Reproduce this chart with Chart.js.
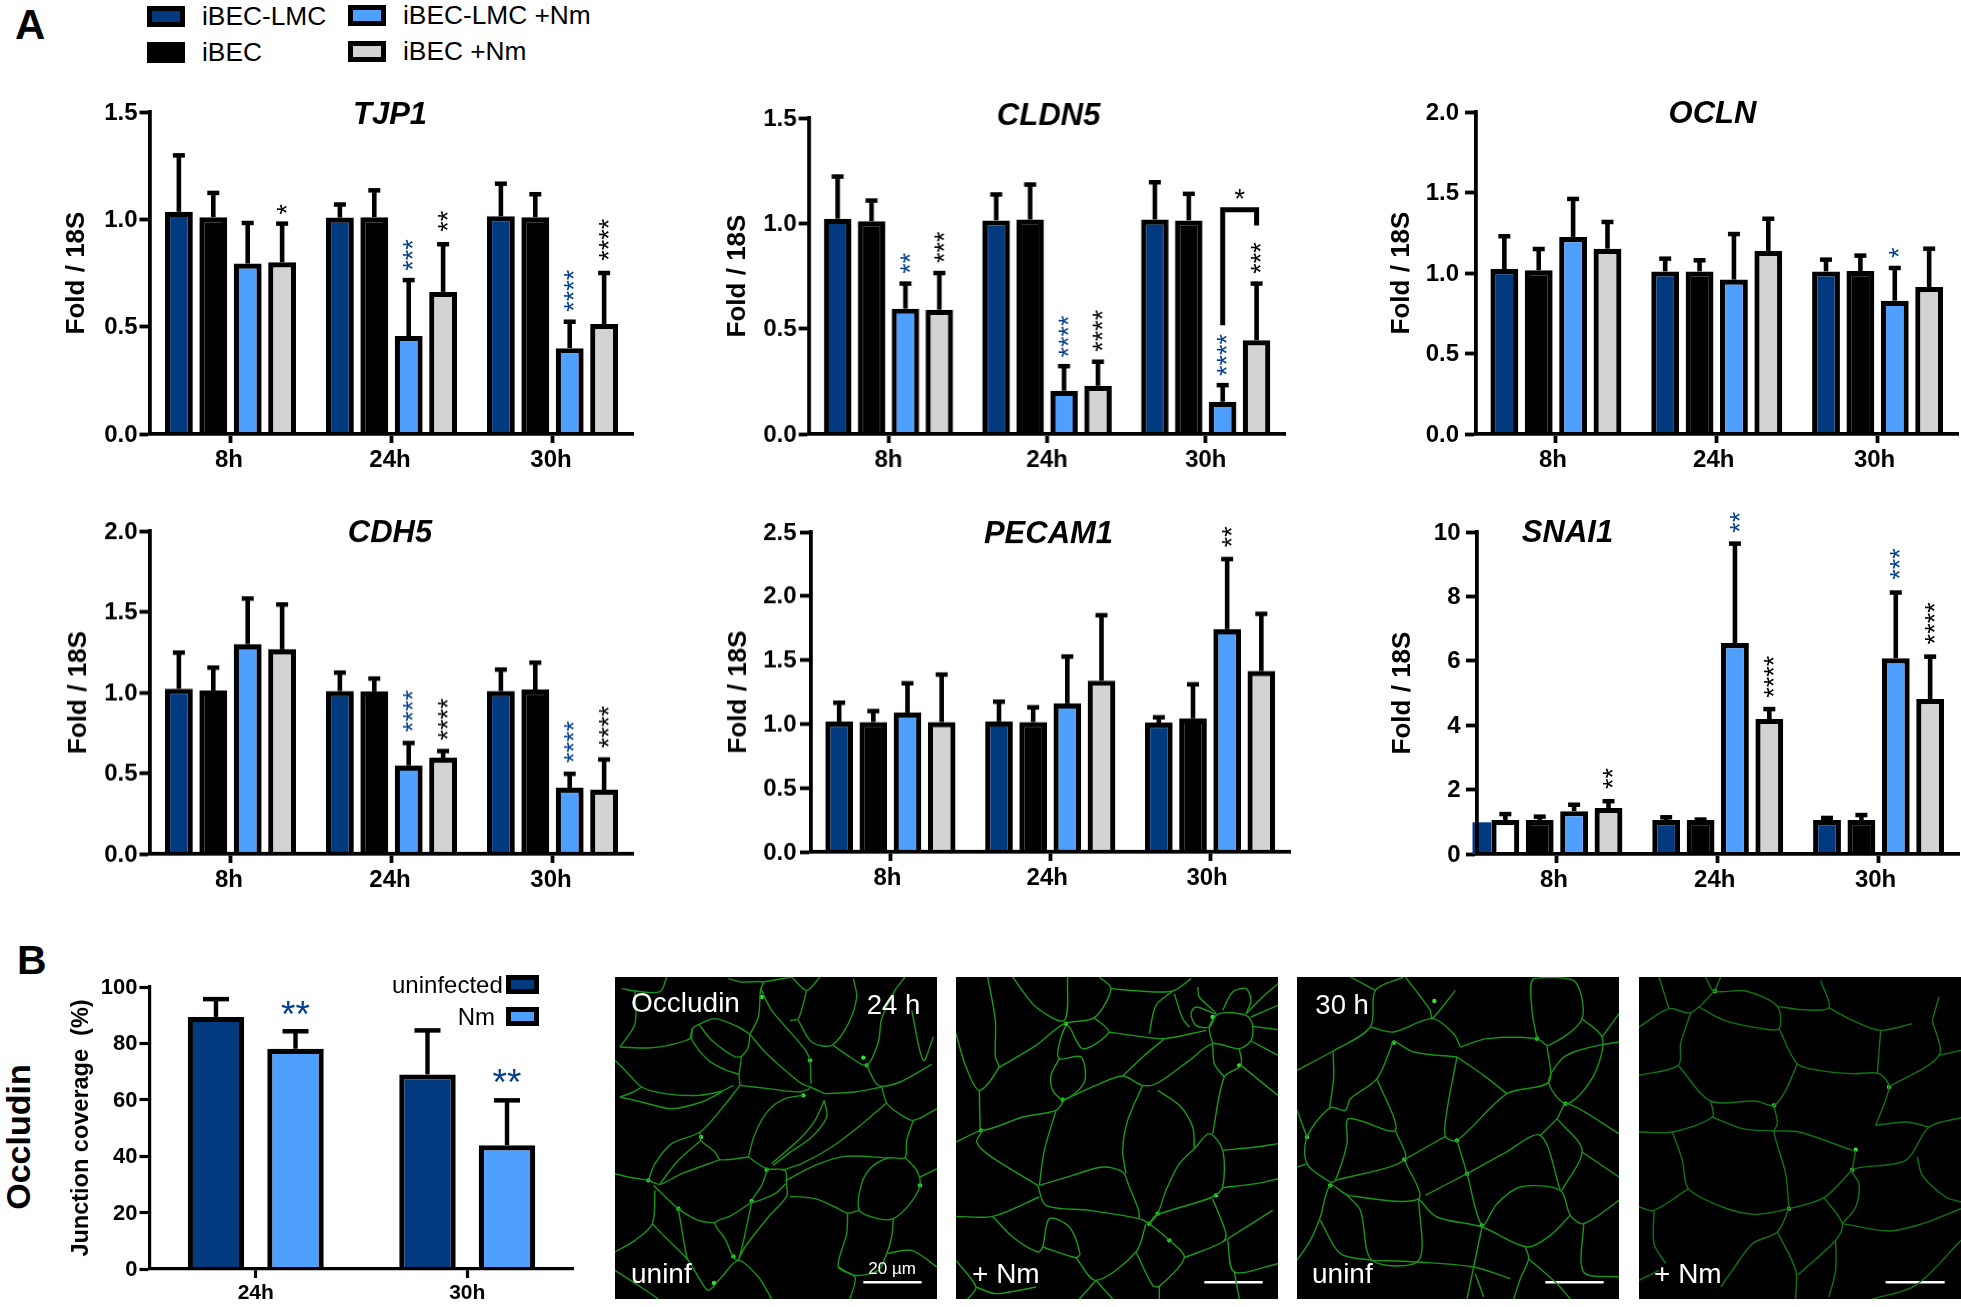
<!DOCTYPE html>
<html>
<head>
<meta charset="utf-8">
<title>Occludin and junction genes</title>
<script src="https://cdn.jsdelivr.net/npm/chart.js@4/dist/chart.umd.min.js"></script>
<style>
    html, body { margin: 0; padding: 0; background: #fff; }
    body { position: relative; width: 1961px; height: 1307px; overflow: hidden; font-family: "Liberation Sans", Arial, sans-serif; }
    canvas { position: absolute; }
    .txt { position: absolute; line-height: 1; white-space: pre; color: #000; }
    .swatch { position: absolute; box-sizing: border-box; border: 5px solid #000; }
</style>
</head>
<body>
<script>
const timeLabels = ["8h", "24h", "30h"];
const seriesNames = ["iBEC-LMC", "iBEC", "iBEC-LMC +Nm", "iBEC +Nm"];

// means and upper error ends, one row per series, one value per time point
const tjp1Means = [[1.035, 1.008, 1.014], [1.01, 1.01, 1.01], [0.794, 0.456, 0.40], [0.80, 0.662, 0.512]];
const tjp1Errs = [[1.298, 1.069, 1.166], [1.123, 1.135, 1.117], [0.983, 0.717, 0.523], [0.98, 0.884, 0.75]];
const tjp1Ticks = [0, 0.5, 1, 1.5];
const tjp1Stars = [[0, 3, "*", 1.022], [1, 2, "***", 0.76], [1, 3, "**", 0.942], [2, 2, "****", 0.569], [2, 3, "****", 0.807]];

const cldn5Means = [[1.022, 1.014, 1.018], [1.01, 1.018, 1.014], [0.595, 0.205, 0.153], [0.59, 0.229, 0.445]];
const cldn5Errs = [[1.222, 1.137, 1.195], [1.108, 1.184, 1.14], [0.714, 0.322, 0.232], [0.764, 0.343, 0.714]];
const cldn5Ticks = [0, 0.5, 1, 1.5];
const cldn5Stars = [[0, 2, "**", 0.761], [0, 3, "***", 0.812], [1, 2, "****", 0.363], [1, 3, "****", 0.39], [2, 2, "****", 0.275], [2, 3, "***", 0.761]];
const cldn5Bracket = { group: 2, from: 2, to: 3, top: 1.064, leftEnd: 0.516, rightEnd: 0.99, star: "*", starAt: 1.137 };

const oclnMeans = [[1.025, 1.01, 1.01], [1.017, 1.01, 1.012], [1.224, 0.959, 0.828], [1.151, 1.137, 0.913]];
const oclnErrs = [[1.228, 1.089, 1.083], [1.149, 1.079, 1.108], [1.46, 1.242, 1.031], [1.317, 1.337, 1.151]];
const oclnTicks = [0, 0.5, 1, 1.5, 2];
const oclnStars = [[2, 2, "*", 1.093]];

const cdh5Means = [[1.024, 1.009, 1.009], [1.013, 1.007, 1.018], [1.30, 0.548, 0.41], [1.268, 0.596, 0.397]];
const cdh5Errs = [[1.247, 1.123, 1.142], [1.154, 1.086, 1.185], [1.582, 0.687, 0.496], [1.545, 0.637, 0.585]];
const cdh5Ticks = [0, 0.5, 1, 1.5, 2];
const cdh5Stars = [[1, 2, "****", 0.755], [1, 3, "****", 0.703], [2, 2, "****", 0.563], [2, 3, "****", 0.656]];

const pecam1Means = [[1.018, 1.02, 1.01], [1.015, 1.015, 1.044], [1.09, 1.161, 1.741], [1.015, 1.339, 1.414]];
const pecam1Errs = [[1.166, 1.174, 1.052], [1.101, 1.13, 1.31], [1.318, 1.527, 2.289], [1.386, 1.85, 1.861]];
const pecam1Ticks = [0, 0.5, 1, 1.5, 2, 2.5];
const pecam1Stars = [[2, 2, "**", 2.38]];

const snai1Means = [[1.057, 1.057, 1.057], [1.057, 1.057, 1.057], [1.33, 6.55, 6.08], [1.43, 4.19, 4.81]];
const snai1Errs = [[1.24, 1.14, 1.12], [1.16, 1.07, 1.21], [1.53, 9.64, 8.12], [1.64, 4.5, 6.13]];
const snai1Ticks = [0, 2, 4, 6, 8, 10];
const snai1Stars = [[0, 3, "**", 2.02], [1, 2, "**", 9.98], [1, 3, "****", 4.85], [2, 2, "***", 8.52], [2, 3, "****", 6.51]];
const snai1Patch = 0.984;

const coverageLabels = ["24h", "30h"];
const coverageNames = ["uninfected", "Nm"];
const coverageMeans = [[89.4, 69], [78.1, 43.9]];
const coverageErrs = [[95.7, 84.6], [84.3, 59.8]];
const coverageTicks = [0, 20, 40, 60, 80, 100];
const coverageStars = [[0, 1, "**", 92.3], [1, 1, "**", 68.1]];

// junction traces (panel units, 0 to 966)
const panelSpan = 966;
const panel1Lines = [
    [[20,35],[60,42],[135,44],[155,0]], [[60,42],[60,140],[15,210]],
    [[15,210],[100,213],[160,205],[228,183],[232,155],[252,142],[300,125],[370,150],[405,172]],
    [[232,155],[228,183],[280,250],[330,278],[372,292]],
    [[252,142],[290,190],[360,240],[378,240],[372,292],[375,325]],
    [[405,172],[398,215],[378,240]], [[405,172],[430,120],[437,35],[445,15],[380,15],[340,5]],
    [[405,172],[450,225],[510,280],[560,320],[585,330],[630,350]],
    [[437,35],[470,100],[530,170],[575,225],[585,255],[588,320]],
    [[445,15],[530,0]], [[530,0],[575,40],[615,0]],
    [[575,40],[550,125],[525,130]], [[550,130],[590,195],[650,205],[700,140],[725,60],[715,5]],
    [[655,205],[705,240],[755,265],[790,195],[800,125],[840,40],[870,0]],
    [[890,100],[925,250],[955,180]], [[755,265],[790,325],[855,315],[950,262]],
    [[630,350],[720,345],[800,330]],
    [[0,250],[40,290],[80,330],[150,350],[250,355],[320,342],[355,325]],
    [[15,360],[55,345],[80,330]], [[15,360],[80,375],[170,395],[260,375],[320,345]],
    [[375,325],[460,335],[555,345],[585,335]],
    [[375,325],[320,395],[255,465],[170,500],[120,560],[100,610]],
    [[255,465],[258,490],[300,525],[315,548],[400,540]],
    [[400,540],[420,470],[460,400],[510,365],[565,355]],
    [[628,370],[600,430],[560,480],[510,525],[470,560]],
    [[628,370],[635,420],[590,480],[520,530],[475,565]],
    [[400,540],[455,575],[510,580],[515,625]],
    [[258,490],[190,550],[135,620]], [[100,610],[135,622],[200,590],[315,548]],
    [[815,378],[730,450],[650,510],[560,560],[500,580]],
    [[800,330],[815,378],[845,405],[895,430],[966,395]],
    [[895,430],[875,490],[870,542],[820,543],[770,570],[740,620],[733,700],[790,725],[835,725],[885,680],[915,625],[905,580],[870,542]],
    [[820,543],[690,538],[600,565],[510,612]], [[915,600],[966,575]],
    [[525,658],[600,665],[660,690],[698,708],[733,700]],
    [[698,708],[695,770],[670,870],[720,900],[705,966]],
    [[515,625],[515,658],[460,720],[390,810],[370,850]],
    [[458,575],[440,625],[410,675],[480,650],[512,620]],
    [[410,675],[350,715],[300,738],[330,785],[355,840],[370,850],[405,700],[410,675]],
    [[100,610],[40,600],[0,590]], [[115,625],[190,695],[250,730],[300,738]],
    [[120,640],[112,740],[60,790],[0,825]],
    [[112,740],[150,780],[220,850],[250,900],[280,940],[320,900],[370,850],[430,900],[470,966]],
    [[190,695],[215,840],[220,850]], [[0,880],[100,945],[130,966]],
    [[835,725],[830,780],[815,830],[790,880],[720,895],[670,870]], [[815,830],[890,820],[966,870]]
];
const panel1Spots = [[455,578],[355,838],[297,918],[100,610],[190,695],[915,625],[565,355],[410,672],[755,265],[745,242],[258,480],[440,60],[585,250]];

const panel2Lines = [
    [[95,0],[118,130],[118,240],[128,272],[70,340],[30,270],[0,170]],
    [[170,0],[240,90],[325,130],[335,0]],
    [[128,272],[240,205],[325,140],[415,122],[465,35],[430,0]],
    [[465,35],[550,42],[650,42],[705,5]],
    [[415,122],[458,165],[380,215],[335,145],[310,200],[310,245],[375,240],[385,315],[325,368],[290,340],[285,295],[310,245]],
    [[458,165],[530,175],[625,185],[750,160]], [[650,42],[600,85],[580,170]], [[655,50],[680,125],[700,150]],
    [[325,368],[420,325],[500,297],[560,325],[605,318],[700,250],[770,200],[850,215],[885,190],[890,145],[870,115],[790,110],[760,150],[770,200]],
    [[500,297],[560,240],[625,185]], [[70,340],[72,420],[78,460],[200,420],[300,400],[325,368]],
    [[0,495],[78,460],[62,495],[100,535],[245,625]], [[300,400],[265,520],[250,625]],
    [[560,325],[515,430],[500,520],[510,590]], [[605,340],[670,385],[710,450],[715,515]],
    [[715,515],[760,470],[800,520],[800,630],[770,660],[600,715],[580,740]],
    [[770,470],[805,300],[855,265],[850,215]], [[770,200],[775,260],[805,300]],
    [[855,265],[910,310],[966,355]], [[800,520],[900,510],[966,500]], [[800,632],[900,620],[966,605]],
    [[715,515],[670,560],[630,640],[605,710],[580,740]],
    [[250,625],[350,595],[440,570],[500,585],[520,630],[548,700],[550,725]],
    [[245,625],[270,685],[400,700],[550,725],[580,740]], [[0,718],[110,718],[250,660]],
    [[110,718],[170,780],[245,825],[260,810],[280,725],[340,750],[372,830],[360,842],[260,810]],
    [[360,842],[420,910],[540,825],[570,740]],
    [[540,825],[590,925],[610,928],[685,842],[640,790],[580,740]],
    [[685,842],[800,795],[810,770],[770,665]], [[800,795],[950,700]],
    [[815,790],[835,885],[966,860]], [[835,885],[850,966]],
    [[420,910],[370,966]], [[420,910],[470,966]], [[610,928],[610,966]],
    [[0,850],[60,930],[35,966]], [[60,930],[120,950],[240,930]],
    [[725,30],[730,60],[780,110],[720,90],[705,110],[720,145],[760,150],[778,115]],
    [[800,100],[830,45],[870,35],[885,70],[870,110]],
    [[885,120],[966,85]], [[890,148],[966,158]], [[885,192],[966,235]], [[870,110],[920,60],[966,20]]
];
const panel2Spots = [[75,460],[605,710],[580,740],[640,790],[780,655],[330,140],[320,368],[850,265],[770,120]];

const panel3Lines = [
    [[0,280],[108,222],[220,150],[235,40],[320,0]], [[160,0],[235,40]],
    [[325,0],[400,100],[405,125],[475,40]], [[220,150],[290,165],[405,125],[470,170],[490,210]],
    [[290,190],[240,305],[160,365],[145,400],[100,392],[30,480],[30,560],[100,615],[115,610],[150,500],[155,425],[295,460],[240,305]],
    [[290,190],[350,225],[480,240]], [[108,222],[110,300],[98,392]],
    [[490,210],[570,185],[720,185],[755,205],[855,125],[830,10],[710,5],[705,100],[720,185]],
    [[480,240],[450,400],[445,478],[480,490],[630,350],[755,315],[750,205]],
    [[480,240],[560,295],[630,350]],
    [[855,125],[915,180],[905,260],[860,340],[805,380],[755,315],[790,250],[830,225],[905,205],[966,195]],
    [[915,180],[966,110]], [[295,460],[322,548],[115,610]], [[322,548],[445,478]],
    [[322,548],[365,665],[155,655],[100,625],[70,720],[40,790],[0,850]],
    [[480,490],[510,590],[555,745],[600,680],[670,630],[790,640],[820,715],[860,740],[966,670]],
    [[510,590],[385,655]], [[510,590],[620,530],[730,475],[790,640]],
    [[730,475],[780,425],[810,380],[966,470]], [[780,425],[855,520],[795,640]], [[855,525],[966,600]],
    [[820,715],[760,775],[690,810],[555,750],[420,720],[365,665]],
    [[365,665],[365,850],[225,850],[190,700],[150,655]], [[70,730],[130,830],[225,850]],
    [[225,850],[360,855],[530,870],[640,905]], [[555,750],[530,870],[510,966]],
    [[685,810],[695,845],[670,905],[650,966]], [[695,845],[780,920],[820,966]],
    [[860,740],[860,885],[966,900]], [[535,890],[560,960]], [[0,400],[30,480]], [[0,570],[30,560]]
];
const panel3Spots = [[322,548],[480,490],[510,590],[555,745],[805,380],[100,625],[412,72],[290,197],[30,480],[720,185]];

const panel4Lines = [
    [[0,150],[90,95],[155,107],[225,42],[245,0]], [[60,0],[90,95]],
    [[200,0],[225,42],[320,42],[415,88],[420,155],[370,155],[255,130],[180,90]],
    [[415,88],[490,98],[570,92],[545,10]], [[570,92],[640,130],[725,160],[820,140]],
    [[155,107],[125,200],[118,265],[0,295]],
    [[420,155],[475,260],[540,280],[640,290],[720,290],[750,330],[710,445]],
    [[725,160],[715,290]], [[880,130],[900,235],[750,330]], [[900,235],[966,220]], [[900,60],[880,130]],
    [[475,260],[440,340],[405,385],[350,372],[215,372],[120,268]],
    [[215,372],[220,420],[100,465],[0,465]],
    [[220,420],[310,455],[405,462],[480,465],[640,520]],
    [[405,385],[415,440],[405,465],[440,590],[450,695]],
    [[100,465],[130,550],[148,635],[250,690],[350,712],[450,695],[555,662],[640,578]],
    [[148,635],[45,700],[0,690]], [[45,700],[45,800],[80,860]],
    [[450,695],[415,765],[340,800],[280,880],[245,930]], [[415,765],[470,880],[470,966]],
    [[555,662],[610,740],[590,790],[475,895]], [[590,790],[590,880],[570,960]],
    [[610,740],[650,690],[660,620],[640,578],[800,550],[870,450],[966,422]],
    [[870,450],[800,435],[710,445]], [[640,578],[650,520]],
    [[610,740],[750,762],[850,740],[966,695]], [[835,540],[850,595],[920,660],[966,675]],
    [[966,790],[830,925],[700,966]], [[0,910],[60,880]]
];
const panel4Spots = [[450,695],[640,578],[650,518],[228,42],[405,385],[750,330]];

const darkBlue = "#023a7f";
const lightBlue = "#4f9fff";
const lightGray = "#d3d3d3";
const starBlue = "#05408c";
const seriesColors = [darkBlue, "#000000", lightBlue, lightGray];
const fontName = '"Liberation Sans", Arial, sans-serif';

Chart.defaults.font.family = fontName;
Chart.defaults.color = "#000";
Chart.defaults.animation = false;

function addText(text, left, top, size, bold) {
    const el = document.createElement("div");
    el.className = "txt";
    el.textContent = text;
    el.style.left = left + "px";
    el.style.top = top + "px";
    el.style.fontSize = size + "px";
    if (bold) el.style.fontWeight = "bold";
    document.body.appendChild(el);
    return el;
}

function addSwatch(left, top, w, h, color) {
    const el = document.createElement("div");
    el.className = "swatch";
    el.style.cssText = `left:${left}px;top:${top}px;width:${w}px;height:${h}px;background:${color}`;
    document.body.appendChild(el);
}

function addCanvas(left, top, w, h) {
    const c = document.createElement("canvas");
    c.width = w;
    c.height = h;
    c.style.left = left + "px";
    c.style.top = top + "px";
    c.style.width = w + "px";
    c.style.height = h + "px";
    document.body.appendChild(c);
    return c;
}

// error bars, stars, gene name and the other bits Chart.js has no element for
const marksPlugin = {
    id: "marks",
    afterDatasetsDraw(chart, args, opts) {
        const ctx = chart.ctx;
        const y = chart.scales.y;
        ctx.save();

        if (opts.patch !== undefined) {
            const b = chart.getDatasetMeta(0).data[0];
            ctx.fillStyle = darkBlue;
            const left = chart.chartArea.left - 4;
            ctx.fillRect(left, y.getPixelForValue(opts.patch), b.x - b.width / 2 - left, y.getPixelForValue(0) - y.getPixelForValue(opts.patch));
        }

        ctx.strokeStyle = "#000";
        opts.errs.forEach((row, i) => {
            const bars = chart.getDatasetMeta(i).data;
            row.forEach((v, j) => {
                const top = y.getPixelForValue(v);
                ctx.lineWidth = opts.stemW;
                ctx.beginPath();
                ctx.moveTo(bars[j].x, bars[j].y);
                ctx.lineTo(bars[j].x, top);
                ctx.stroke();
                ctx.lineWidth = 4.5;
                ctx.beginPath();
                ctx.moveTo(bars[j].x - opts.capW / 2, top);
                ctx.lineTo(bars[j].x + opts.capW / 2, top);
                ctx.stroke();
            });
        });

        opts.stars.forEach(([group, series, text, at]) => {
            const x = chart.getDatasetMeta(series).data[group].x;
            ctx.fillStyle = series === opts.blueSeries ? starBlue : "#000";
            ctx.font = `${opts.starSize}px ${fontName}`;
            if (opts.flatStars) {
                ctx.textAlign = "center";
                ctx.textBaseline = "alphabetic";
                ctx.fillText(text, x, y.getPixelForValue(at) + opts.starSize * 0.5);
            } else {
                ctx.save();
                ctx.translate(x, y.getPixelForValue(at));
                ctx.rotate(-Math.PI / 2);
                ctx.textAlign = "left";
                ctx.textBaseline = "middle";
                ctx.fillText(text, 0, opts.starSize * 0.23);
                ctx.restore();
            }
        });

        if (opts.bracket) {
            const k = opts.bracket;
            const x1 = chart.getDatasetMeta(k.from).data[k.group].x;
            const x2 = chart.getDatasetMeta(k.to).data[k.group].x;
            ctx.lineWidth = 5;
            ctx.lineJoin = "miter";
            ctx.beginPath();
            ctx.moveTo(x1, y.getPixelForValue(k.leftEnd));
            ctx.lineTo(x1, y.getPixelForValue(k.top));
            ctx.lineTo(x2, y.getPixelForValue(k.top));
            ctx.lineTo(x2, y.getPixelForValue(k.rightEnd));
            ctx.stroke();
            ctx.fillStyle = "#000";
            ctx.textAlign = "center";
            ctx.textBaseline = "alphabetic";
            ctx.fillText(k.star, (x1 + x2) / 2, y.getPixelForValue(k.starAt) + opts.starSize * 0.5);
        }

        if (opts.title) {
            ctx.fillStyle = "#000";
            ctx.font = `italic bold 31px ${fontName}`;
            ctx.textAlign = "center";
            ctx.textBaseline = "middle";
            ctx.fillText(opts.title, chart.chartArea.left + opts.titleX, chart.chartArea.top + opts.titleY);
        }
        ctx.restore();
    }
};

function barChart(cfg) {
    const topPad = 24, rightPad = 3, bottom = 52;
    const plotH = cfg.baseY - cfg.topY;
    const c = addCanvas(cfg.axisX - cfg.gutter, cfg.topY - topPad, cfg.gutter + cfg.plotW + rightPad, topPad + plotH + bottom);
    const ticks = cfg.ticks;
    new Chart(c, {
        type: "bar",
        data: {
            labels: cfg.labels,
            datasets: cfg.means.map((row, i) => ({
                label: cfg.names[i],
                data: row,
                backgroundColor: cfg.fills ? cfg.fills[i] : seriesColors[i],
                borderColor: "#000",
                borderWidth: cfg.barBorder,
                categoryPercentage: cfg.catPct,
                barPercentage: cfg.barPct
            }))
        },
        options: {
            responsive: false,
            layout: { padding: { top: topPad, right: rightPad, left: 0, bottom: 0 } },
            plugins: {
                legend: { display: false },
                tooltip: { enabled: false },
                marks: {
                    errs: cfg.errs, stars: cfg.stars, bracket: cfg.bracket, patch: cfg.patch,
                    blueSeries: cfg.blueSeries, starSize: cfg.starSize, flatStars: cfg.flatStars,
                    stemW: cfg.stemW, capW: cfg.capW,
                    title: cfg.title, titleX: cfg.titleX, titleY: cfg.titleY
                }
            },
            scales: {
                x: {
                    afterFit: s => { s.height = bottom; },
                    grid: { offset: false, drawOnChartArea: false, color: "#000", tickLength: 9, tickWidth: cfg.axisW },
                    border: { color: "#000", width: cfg.axisW, z: 1 },
                    ticks: { font: { size: cfg.xFont, weight: "bold" }, color: "#000", padding: 3, labelOffset: cfg.xShift, maxRotation: 0, autoSkip: false }
                },
                y: {
                    min: ticks[0],
                    max: ticks[ticks.length - 1],
                    afterFit: s => { s.width = cfg.gutter; },
                    afterBuildTicks: s => { s.ticks = ticks.map(v => ({ value: v })); },
                    grid: { drawOnChartArea: false, color: "#000", tickLength: 10.5, tickWidth: cfg.axisW },
                    border: { color: "#000", width: cfg.axisW, z: 1 },
                    title: { display: true, text: cfg.yTitle, padding: 0, color: "#000", font: { size: cfg.yTitleSize, weight: "bold" } },
                    ticks: {
                        font: { size: cfg.yFont, weight: "bold" },
                        color: "#000",
                        padding: cfg.yPad,
                        labelOffset: 1,
                        callback: v => v.toFixed(cfg.digits)
                    }
                }
            }
        },
        plugins: [marksPlugin]
    });
}

function geneChart(axisX, topY, baseY, plotW, gutter, name, titleX, titleY, means, errs, ticks, stars, extra) {
    barChart(Object.assign({
        axisX, topY, baseY, plotW, gutter,
        title: name, titleX, titleY,
        means, errs, ticks, stars,
        labels: timeLabels, names: seriesNames,
        catPct: 0.855, barPct: 0.81, barBorder: 5.2,
        blueSeries: 2, starSize: 27, flatStars: false,
        stemW: 4.6, capW: 12,
        xFont: 24, yFont: 24, axisW: 3.8, xShift: -1.5, yPad: 2,
        yTitle: "Fold / 18S", yTitleSize: 26, digits: 1
    }, extra || {}));
}

const panelTextPlugin = {
    id: "panelText",
    afterDatasetsDraw(chart, args, opts) {
        const ctx = chart.ctx;
        ctx.save();
        ctx.fillStyle = "#fff";
        ctx.textBaseline = "alphabetic";
        ctx.textAlign = "left";
        opts.items.forEach(([text, x, y, size]) => {
            ctx.font = `${size}px ${fontName}`;
            ctx.fillText(text, chart.scales.x.getPixelForValue(x), chart.scales.y.getPixelForValue(y));
        });
        ctx.restore();
    }
};

function micrograph(left, lines, spots, lineColor, items, barEnds) {
    const c = addCanvas(left, 977, 322, 322);
    c.style.background = "#000";
    const datasets = lines.map(line => ({
        data: line.map(p => ({ x: p[0], y: p[1] })),
        showLine: true,
        borderColor: lineColor,
        borderWidth: 1.4,
        tension: 0.3,
        pointRadius: 0
    }));
    datasets.push({
        data: spots.map(p => ({ x: p[0], y: p[1] })),
        showLine: false,
        pointRadius: 2.2,
        pointBorderWidth: 0,
        pointBackgroundColor: "#35e035"
    });
    datasets.push({
        data: barEnds.map(p => ({ x: p[0], y: p[1] })),
        showLine: true,
        borderColor: "#fff",
        borderWidth: 2.5,
        pointRadius: 0
    });
    new Chart(c, {
        type: "scatter",
        data: { datasets },
        options: {
            responsive: false,
            layout: { padding: 0, autoPadding: false },
            plugins: { legend: { display: false }, tooltip: { enabled: false }, panelText: { items } },
            scales: {
                x: { display: false, min: 0, max: panelSpan },
                y: { display: false, min: 0, max: panelSpan, reverse: true }
            }
        },
        plugins: [panelTextPlugin]
    });
}

// panel letters and side label
addText("A", 15, 4, 42, true);
addText("B", 17, 940, 41, true);
const occ = addText("Occludin", 18, 1137, 34, true);
occ.style.transform = "translate(-50%,-50%) rotate(-90deg)";

// top legend
addSwatch(147, 6, 38, 21, darkBlue);
addSwatch(147, 42, 38, 21, "#000");
addSwatch(348, 5, 38, 21, lightBlue);
addSwatch(348, 41, 38, 21, lightGray);
addText(seriesNames[0], 202, 3, 26.3);
addText(seriesNames[1], 202, 39, 26.3);
addText(seriesNames[2], 403, 2, 26.3);
addText(seriesNames[3], 403, 38, 26.3);

geneChart(149.5, 112, 434, 483, 89, "TJP1", 240, 3, tjp1Means, tjp1Errs, tjp1Ticks, tjp1Stars);
geneChart(809, 117.5, 434, 475.5, 87, "CLDN5", 239, -2, cldn5Means, cldn5Errs, cldn5Ticks, cldn5Stars, { bracket: cldn5Bracket, xShift: 0 });
geneChart(1475, 112, 434, 483, 89.5, "OCLN", 237, 2.5, oclnMeans, oclnErrs, oclnTicks, oclnStars, { xShift: -3, yPad: 6 });
geneChart(150, 531, 853.5, 483, 87, "CDH5", 240, 2.5, cdh5Means, cdh5Errs, cdh5Ticks, cdh5Stars);
geneChart(810, 532, 851.5, 479.5, 87.5, "PECAM1", 238, 2.5, pecam1Means, pecam1Errs, pecam1Ticks, pecam1Stars, { blueSeries: -1, xShift: -3, yPad: 3.5 });
geneChart(1476, 531.5, 853.5, 483, 89.5, "SNAI1", 91, 1.5, snai1Means, snai1Errs, snai1Ticks, snai1Stars, {
    digits: 0,
    xShift: -3,
    yPad: 5.5,
    patch: snai1Patch,
    fills: [["#ffffff", darkBlue, darkBlue], "#000000", lightBlue, lightGray]
});

// panel B bars
barChart({
    axisX: 150, topY: 987, baseY: 1269, plotW: 423, gutter: 83,
    title: null, titleX: 0, titleY: 0,
    means: coverageMeans, errs: coverageErrs, ticks: coverageTicks, stars: coverageStars,
    labels: coverageLabels, names: coverageNames,
    fills: [darkBlue, lightBlue],
    catPct: 0.752, barPct: 0.71, barBorder: 5.2,
    blueSeries: 1, starSize: 37, flatStars: true,
    stemW: 4.4, capW: 26,
    xFont: 21, yFont: 22, axisW: 3.2, xShift: 0, yPad: 2,
    yTitle: "Junction coverage  (%)", yTitleSize: 23.5, digits: 0
});
addSwatch(506, 975, 33, 19, darkBlue);
addSwatch(506, 1007, 33, 19, lightBlue);
const legendA = addText(coverageNames[0], 392, 973, 24);
legendA.style.width = "105px";
legendA.style.textAlign = "right";
const legendB = addText(coverageNames[1], 392, 1005, 24);
legendB.style.width = "103px";
legendB.style.textAlign = "right";

micrograph(615, panel1Lines, panel1Spots, "#189418",
    [["Occludin", 48, 105, 28], ["24 h", 755, 112, 27.5], ["uninf", 48, 917, 28], ["20 µm", 760, 892, 17]],
    [[745, 916], [920, 916]]);
micrograph(956, panel2Lines, panel2Spots, "#1a9a1a",
    [["+ Nm", 48, 917, 28]],
    [[745, 916], [920, 916]]);
micrograph(1297, panel3Lines, panel3Spots, "#189418",
    [["30 h", 55, 112, 27.5], ["uninf", 45, 917, 28]],
    [[745, 916], [920, 916]]);
micrograph(1639, panel4Lines, panel4Spots, "#107414",
    [["+ Nm", 45, 917, 28]],
    [[740, 916], [917, 916]]);
</script>
</body>
</html>
